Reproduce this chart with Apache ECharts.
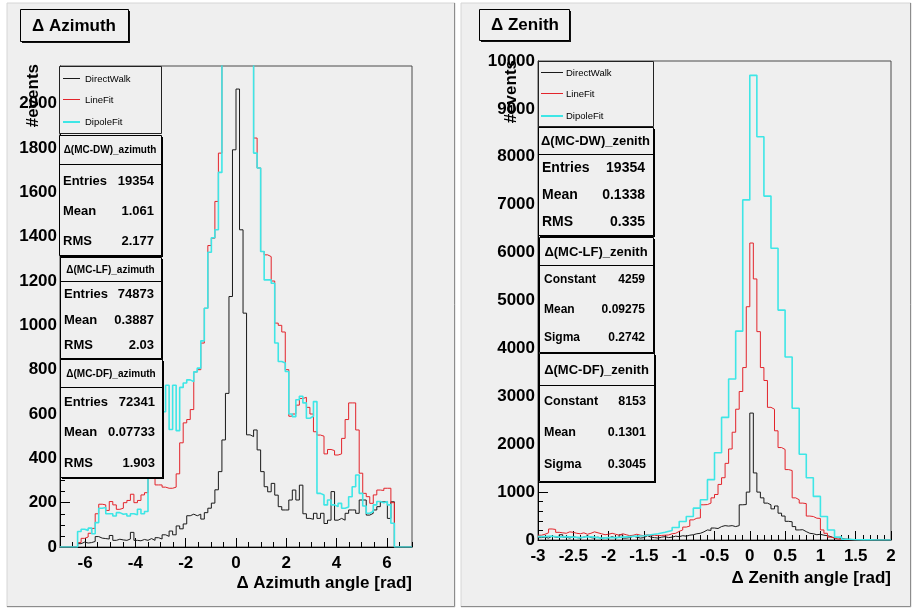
<!DOCTYPE html>
<html>
<head>
<meta charset="utf-8">
<script src="https://cdn.jsdelivr.net/npm/echarts@6/dist/echarts.min.js"></script>
<style>
html,body{margin:0;padding:0;background:#fff;}
#chart{width:915px;height:612px;}
</style>
</head>
<body>
<div id="chart"></div>
<script>
// ---------------- Azimuth histograms: 100 bins of 0.14 rad from -7 to 7 ----------------
const azBinLow = -7;
const azBinWidth = 0.14;
const azDirectWalk = [
  0, 0, 0, 0, 0, 15, 22, 18, 20, 25,
  47, 40, 38, 36, 52, 30, 35, 32, 30, 36,
  66, 30, 28, 34, 30, 38, 30, 42, 36, 55,
  48, 72, 55, 95, 82, 104, 141, 148, 141, 148,
  126, 155, 175, 198, 258, 340, 483, 693, 1130, 1792,
  2066, 1431, 1055, 506, 498, 528, 438, 340, 272, 249,
  287, 234, 182, 167, 167, 212, 257, 212, 279, 150,
  129, 125, 152, 129, 152, 106, 121, 250, 121, 129,
  121, 152, 167, 167, 152, 212, 212, 144, 152, 167,
  182, 204, 204, 129, 204, 0, 0, 0, 0, 0
];
const azLineFit = [
  0, 0, 0, 0, 0, 20, 39, 45, 62, 84,
  150, 193, 190, 165, 205, 190, 170, 175, 200, 210,
  238, 200, 210, 235, 245, 310, 330, 280, 280, 270,
  265, 265, 270, 330, 470, 560, 575, 620, 790, 800,
  920, 1077, 1360, 1393, 1559, 1777, 2300, 2700, 3000, 3300,
  3400, 3200, 2900, 2600, 2300, 1845, 1710, 1333, 1318, 1310,
  1200, 1010, 1000, 970, 800, 590, 600, 640, 670, 675,
  630, 600, 520, 505, 500, 420, 440, 435, 415, 420,
  490, 575, 650, 650, 528, 333, 242, 227, 197, 235,
  257, 255, 265, 265, 200, 0, 0, 0, 0, 0
];
const azDipoleFit = [
  0, 0, 0, 0, 0, 70, 80, 75, 85, 60,
  110, 175, 178, 150, 150, 140, 155, 148, 150, 140,
  150, 145, 170, 150, 160, 330, 450, 520, 560, 610,
  730, 530, 730, 525, 720, 740, 754, 746, 790, 807,
  930, 1077, 1330, 1395, 1431, 1690, 2400, 2800, 3200, 3500,
  3600, 3400, 3100, 2800, 2400, 1777, 1710, 1333, 1205, 1205,
  1190, 920, 837, 830, 792, 600, 588, 664, 680, 650,
  581, 590, 656, 242, 235, 190, 212, 190, 182, 197,
  175, 180, 227, 272, 325, 242, 185, 152, 160, 190,
  205, 200, 205, 190, 107, 0, 0, 0, 0, 0
];

// ---------------- Zenith histograms ----------------
const zenBinLow = -3;
const zenFineWidth = 0.05;   // DirectWalk, LineFit
const zenCoarseWidth = 0.1;  // DipoleFit
const zenDirectWalk = [
  50, 60, 40, 80, 60, 50, 110, 60, 40, 70,
  50, 40, 60, 90, 50, 40, 60, 30, 50, 40,
  70, 40, 60, 110, 40, 50, 80, 60, 40, 50,
  90, 60, 50, 40, 60, 70, 50, 60, 80, 70,
  90, 80, 100, 110, 130, 140, 170, 210, 200, 250,
  240, 280, 300, 290, 300, 280, 300, 735, 740, 1000,
  2650, 1400, 1000, 880, 770, 735, 650, 710, 560, 500,
  390, 380, 280, 210, 215, 175, 140, 130, 110, 120,
  100, 90, 70, 40, 50, 30, 20, 15, 10, 5,
  3, 2, 0, 0, 0, 0, 0, 0, 0, 0
];
const zenLineFit = [
  100, 120, 150, 230, 220, 160, 150, 140, 170, 160,
  140, 130, 150, 120, 140, 170, 150, 130, 110, 120,
  140, 120, 100, 130, 110, 90, 100, 120, 100, 90,
  110, 90, 100, 90, 95, 100, 105, 130, 140, 180,
  210, 270, 290, 420, 455, 460, 735, 740, 770, 880,
  950, 1160, 1300, 1600, 1900, 2250, 2730, 3100, 3600, 4870,
  6200, 5450, 4350, 3600, 3330, 2770, 2730, 2280, 1930, 1890,
  1470, 1450, 880, 840, 770, 760, 500, 490, 455, 450,
  210, 140, 60, 40, 20, 15, 5, 3, 2, 0,
  0, 0, 0, 0, 0, 0, 0, 0, 0, 0
];
const zenDipoleFit = [
  70, 80, 60, 70, 60, 50, 70, 60, 40, 50,
  50, 60, 70, 80, 90, 110, 130, 160, 200, 260,
  385, 490, 665, 840, 1260, 1820, 2560, 3360, 4360, 7100,
  9700, 8420, 7180, 6090, 4800, 3820, 2750, 1790, 1300, 910,
  490, 210, 60, 15, 5, 3, 2, 0, 0, 0
];

// ---------------- Axis ticks ----------------
const azXTicks = [-6, -4, -2, 0, 2, 4, 6];
const azYTicks = [0, 200, 400, 600, 800, 1000, 1200, 1400, 1600, 1800, 2000];
const zenXTicks = [-3, -2.5, -2, -1.5, -1, -0.5, 0, 0.5, 1, 1.5, 2];
const zenYTicks = [0, 1000, 2000, 3000, 4000, 5000, 6000, 7000, 8000, 9000, 10000];

// ---------------- Texts ----------------
const seriesNames = ['DirectWalk', 'LineFit', 'DipoleFit'];
const azStatTitles = ['\u0394(MC-DW)_azimuth', '\u0394(MC-LF)_azimuth', '\u0394(MC-DF)_azimuth'];
const azStatRows = [
  [['Entries', '19354'], ['Mean', '1.061'], ['RMS', '2.177']],
  [['Entries', '74873'], ['Mean', '0.3887'], ['RMS', '2.03']],
  [['Entries', '72341'], ['Mean', '0.07733'], ['RMS', '1.903']]
];
const zenStatTitles = ['\u0394(MC-DW)_zenith', '\u0394(MC-LF)_zenith', '\u0394(MC-DF)_zenith'];
const zenStatRows = [
  [['Entries', '19354'], ['Mean', '0.1338'], ['RMS', '0.335']],
  [['Constant', '4259'], ['Mean', '0.09275'], ['Sigma', '0.2742']],
  [['Constant', '8153'], ['Mean', '0.1301'], ['Sigma', '0.3045']]
];

// ---------------- Styling ----------------
const FONT = '"Liberation Sans", Arial, Helvetica, sans-serif';
const PAD = '#efefef';
const COLORS = ['#1a1a1a', '#e3242b', '#3ee6e6'];
const WIDTHS = [1, 1, 1.6];

// Histogram outline: one point per bin low edge plus the closing upper edge
function histPoints(low, width, values) {
  const pts = values.map((v, i) => [+(low + i * width).toFixed(4), v]);
  pts.push([+(low + values.length * width).toFixed(4), values[values.length - 1]]);
  return pts;
}

function minorList(min, max, step, majors) {
  const out = [];
  const n = Math.round((max - min) / step);
  for (let k = 0; k <= n; k++) {
    const v = +(min + k * step).toFixed(4);
    if (!majors.some(m => Math.abs(m - v) < 1e-6)) out.push(v);
  }
  return out;
}

const labelStyle = {fontFamily: FONT, fontWeight: 'bold', fontSize: 17, color: '#000'};

function xAxes(grid, min, max, majors, minorStep) {
  return [
    {
      type: 'value', gridIndex: grid, position: 'bottom', min: min, max: max,
      axisLine: {show: true, onZero: false, lineStyle: {color: '#000', width: 1}},
      axisTick: {show: true, inside: true, length: 9, customValues: majors, lineStyle: {color: '#000'}},
      axisLabel: Object.assign({show: true, customValues: majors, margin: 8, formatter: v => String(v)}, labelStyle),
      splitLine: {show: false}
    },
    {
      type: 'value', gridIndex: grid, position: 'bottom', min: min, max: max,
      axisLine: {show: false, onZero: false},
      axisTick: {show: true, inside: true, length: 5, customValues: minorList(min, max, minorStep, majors), lineStyle: {color: '#000'}},
      axisLabel: {show: false},
      splitLine: {show: false}
    }
  ];
}

function yAxes(grid, min, max, majors, minorStep, minorMax) {
  return [
    {
      type: 'value', gridIndex: grid, position: 'left', min: min, max: max,
      axisLine: {show: true, onZero: false, lineStyle: {color: '#000', width: 1}},
      axisTick: {show: true, inside: true, length: 10, customValues: majors, lineStyle: {color: '#000'}},
      axisLabel: Object.assign({show: true, customValues: majors, margin: 3, formatter: v => String(v)}, labelStyle),
      splitLine: {show: false}
    },
    {
      type: 'value', gridIndex: grid, position: 'left', min: min, max: max,
      axisLine: {show: false, onZero: false},
      axisTick: {show: true, inside: true, length: 5, customValues: minorList(min, minorMax, minorStep, majors), lineStyle: {color: '#000'}},
      axisLabel: {show: false},
      splitLine: {show: false}
    }
  ];
}

function histSeries(name, idx, xi, yi, low, width, values) {
  return {
    name: name, type: 'line', step: 'end', xAxisIndex: xi, yAxisIndex: yi,
    data: histPoints(low, width, values),
    symbol: 'none', showSymbol: false, smooth: false, clip: true,
    lineStyle: {color: COLORS[idx], width: WIDTHS[idx]},
    z: 3 + idx, animation: false, silent: true
  };
}

// ---------------- Graphic overlays ----------------
const G = [];
function pad(x, y, w, h) {
  G.push({type: 'rect', z: -10, shape: {x: x, y: y, width: w, height: h}, style: {fill: PAD, stroke: '#d6d6d6', lineWidth: 1}});
  G.push({type: 'polyline', z: -9, shape: {points: [[x + w - 0.5, y], [x + w - 0.5, y + h - 0.5], [x, y + h - 0.5]]}, style: {stroke: '#8c8c8c', lineWidth: 1, fill: null}});
}
function titleBox(x, y, w, h, text) {
  G.push({type: 'rect', z: 100, shape: {x: x + 2, y: y + 2, width: w, height: h}, style: {fill: '#111'}});
  G.push({type: 'rect', z: 101, shape: {x: x + 0.5, y: y + 0.5, width: w, height: h}, style: {fill: PAD, stroke: '#000', lineWidth: 1}});
  G.push({type: 'text', z: 102, x: x + 12, y: y + h / 2 + 1, style: {text: text, font: 'bold 17px ' + FONT, fill: '#000', align: 'left', verticalAlign: 'middle'}});
}
function legendBox(x, y, w, h, rowYs, lineX1, lineX2, textX, fontSize) {
  G.push({type: 'rect', z: 100, shape: {x: x + 0.5, y: y + 0.5, width: w, height: h}, style: {fill: PAD, stroke: '#222', lineWidth: 1}});
  seriesNames.forEach((n, i) => {
    G.push({type: 'rect', z: 101, shape: {x: lineX1, y: rowYs[i], width: lineX2 - lineX1, height: WIDTHS[i] > 1 ? 2 : 1}, style: {fill: COLORS[i]}});
    G.push({type: 'text', z: 101, x: textX, y: rowYs[i] + 1, style: {text: n, font: fontSize + 'px ' + FONT, fill: '#000', align: 'left', verticalAlign: 'middle'}});
  });
}
function statBox(b, title, rows, titleFont, rowFont) {
  G.push({type: 'rect', z: 100, shape: {x: b.x + 2, y: b.y + 2, width: b.w, height: b.h}, style: {fill: '#000'}});
  G.push({type: 'rect', z: 101, shape: {x: b.x + 0.5, y: b.y + 0.5, width: b.w, height: b.h}, style: {fill: PAD, stroke: '#000', lineWidth: 1}});
  G.push({type: 'line', z: 102, shape: {x1: b.x, y1: b.div + 0.5, x2: b.x + b.w, y2: b.div + 0.5}, style: {stroke: '#000', lineWidth: 1}});
  G.push({type: 'text', z: 102, x: b.x + b.w / 2, y: (b.y + b.div) / 2 + 1, style: {text: title, font: titleFont, fill: '#000', align: 'center', verticalAlign: 'middle'}});
  rows.forEach((r, i) => {
    G.push({type: 'text', z: 102, x: b.lx, y: b.rows[i], style: {text: r[0], font: rowFont, fill: '#000', align: 'left', verticalAlign: 'middle'}});
    G.push({type: 'text', z: 102, x: b.vx, y: b.rows[i], style: {text: r[1], font: rowFont, fill: '#000', align: 'right', verticalAlign: 'middle'}});
  });
}
function axisTitle(x, y, text, rotated) {
  G.push({type: 'text', z: 110, x: x, y: y, rotation: rotated ? Math.PI / 2 : 0,
    style: {text: text, font: 'bold 17px ' + FONT, fill: '#000', align: 'right', verticalAlign: 'middle'}});
}

pad(7, 3, 448, 604);
pad(461, 3, 450, 604);

titleBox(20, 9, 108, 32, '\u0394 Azimuth');
titleBox(479, 9, 90, 31, '\u0394 Zenith');

legendBox(59, 66, 102, 67, [78, 99, 121], 63, 80, 85, 9.5);
legendBox(538, 61, 115, 65, [72, 93, 115], 541, 563, 566, 9.5);

const azBoxes = [
  {x: 59, y: 135, w: 102, h: 120, div: 164, rows: [181, 211, 241], lx: 63, vx: 154},
  {x: 60, y: 257, w: 101, h: 101, div: 281, rows: [294, 320, 345], lx: 64, vx: 154},
  {x: 60, y: 359, w: 102, h: 118, div: 387, rows: [402, 432, 463], lx: 64, vx: 155}
];
azBoxes.forEach((b, i) => statBox(b, azStatTitles[i], azStatRows[i], 'bold 10px ' + FONT, 'bold 13px ' + FONT));

const zenBoxes = [
  {x: 538, y: 127, w: 115, h: 108, div: 154, rows: [168, 195, 222], lx: 542, vx: 645, rf: 'bold 14px '},
  {x: 539, y: 237, w: 114, h: 115, div: 265, rows: [280, 310, 338], lx: 544, vx: 645, rf: 'bold 12px '},
  {x: 539, y: 353, w: 115, h: 128, div: 385, rows: [402, 433, 465], lx: 544, vx: 646, rf: 'bold 12.5px '}
];
zenBoxes.forEach((b, i) => statBox(b, zenStatTitles[i], zenStatRows[i], 'bold 13px ' + FONT, b.rf + FONT));

axisTitle(412, 583, '\u0394 Azimuth angle [rad]', false);
axisTitle(891, 578, '\u0394 Zenith angle [rad]', false);
axisTitle(33, 64, '#events', true);
axisTitle(511, 60, '#events', true);

// ---------------- Chart ----------------
const chart = echarts.init(document.getElementById('chart'), null, {renderer: 'canvas'});
chart.setOption({
  backgroundColor: '#ffffff',
  animation: false,
  grid: [
    {left: 60, top: 66, width: 352, height: 481, show: true, borderColor: '#4a4a4a', borderWidth: 1, backgroundColor: 'transparent', containLabel: false},
    {left: 538, top: 61, width: 353, height: 479, show: true, borderColor: '#4a4a4a', borderWidth: 1, backgroundColor: 'transparent', containLabel: false}
  ],
  xAxis: [].concat(
    xAxes(0, -7, 7, azXTicks, 0.5),
    xAxes(1, -3, 2, zenXTicks, 0.1)
  ),
  yAxis: [].concat(
    yAxes(0, 0, 2170, azYTicks, 50, 2150),
    yAxes(1, 0, 10000, zenYTicks, 200, 10000)
  ),
  series: [
    histSeries(seriesNames[0], 0, 0, 0, azBinLow, azBinWidth, azDirectWalk),
    histSeries(seriesNames[1], 1, 0, 0, azBinLow, azBinWidth, azLineFit),
    histSeries(seriesNames[2], 2, 0, 0, azBinLow, azBinWidth, azDipoleFit),
    histSeries(seriesNames[0], 0, 2, 2, zenBinLow, zenFineWidth, zenDirectWalk),
    histSeries(seriesNames[1], 1, 2, 2, zenBinLow, zenFineWidth, zenLineFit),
    histSeries(seriesNames[2], 2, 2, 2, zenBinLow, zenCoarseWidth, zenDipoleFit)
  ],
  graphic: {elements: G}
});
</script>
</body>
</html>
